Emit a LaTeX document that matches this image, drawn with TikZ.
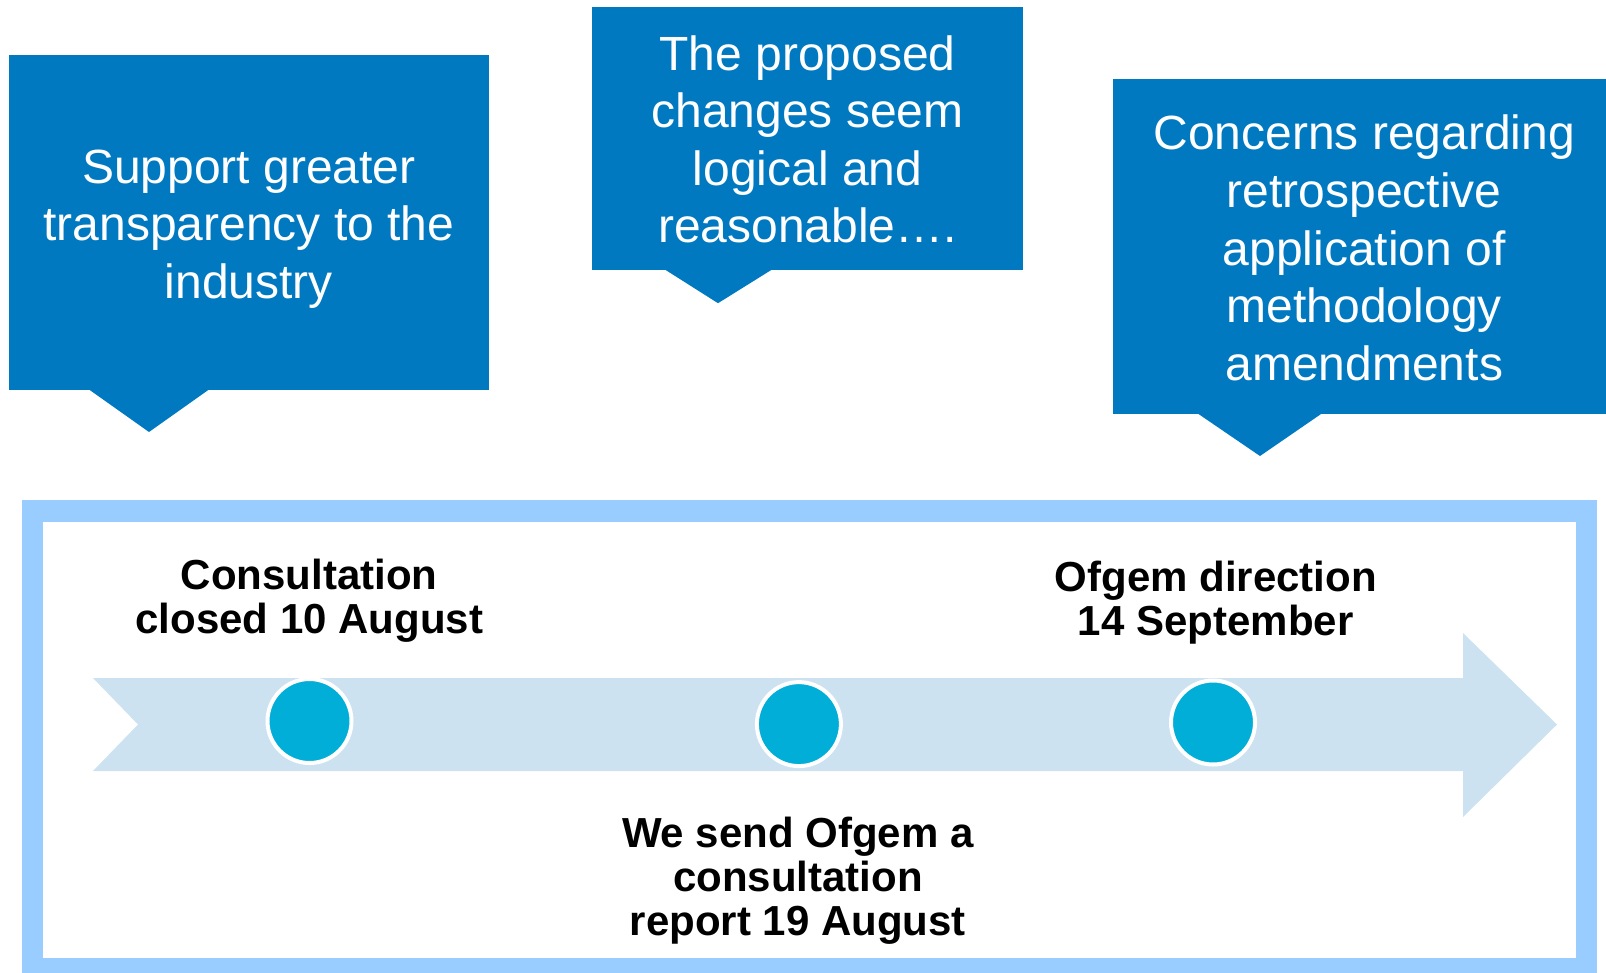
\documentclass[tikz,border=0pt]{standalone}
\usepackage{fontspec}
\setmainfont{Liberation Sans}
\definecolor{calloutblue}{RGB}{0,121,193}
\definecolor{framelight}{RGB}{153,204,255}
\definecolor{bandblue}{RGB}{204,226,240}
\definecolor{dotcyan}{RGB}{0,174,216}
\begin{document}
\begin{tikzpicture}[x=1pt,y=-1pt,
  callout/.style={fill=calloutblue, inner sep=0pt},
  callouttext/.style={text=white, align=center, inner sep=0pt,
    font=\fontsize{48}{57.6}\selectfont},
  milestone/.style={circle, fill=dotcyan, draw=white, line width=4pt,
    minimum size=84pt, inner sep=0pt},
  datelabel/.style={align=center, inner sep=0pt,
    font=\fontsize{42}{44}\selectfont\bfseries}]
\useasboundingbox (0,0) rectangle (1606,972);

% outer frame of the timeline
\node[draw=framelight, line width=21.5pt, minimum width=1554pt,
  minimum height=457.75pt, inner sep=0pt] (frame) at (809.5,739.9) {};

% timeline arrow
\fill[bandblue] (93,678) -- (1463,678) -- (1463,633) -- (1557,724.5)
  -- (1463,817) -- (1463,771) -- (93,771) -- (138,724.5) -- cycle;

% milestones
\node[milestone] (c1) at (309.5,721) {};
\node[milestone] (c2) at (798.9,724.1) {};
\node[milestone] (c3) at (1213,722.5) {};

% milestone labels
\node[datelabel] (l1) at (309.3,600.6) {Consultation\\closed 10 August};
\node[datelabel] (l2) at (1215.7,603) {Ofgem direction\\14 September};
\node[datelabel] (l3) at (797.9,881) {We send Ofgem a\\consultation\\report 19 August};

% callouts
\node[callout, minimum width=479.3pt, minimum height=334.9pt] (b1) at (248.9,222.7) {};
\fill[calloutblue] (89,389.5) -- (149,432) -- (209,389.5) -- cycle;
\node[callouttext] (t1) at (248.9,229) {Support greater\\transparency to the\\industry};

\node[callout, minimum width=431pt, minimum height=263.2pt] (b2) at (807.5,138.8) {};
\fill[calloutblue] (664.7,269.4) -- (718,303.2) -- (772.2,269.4) -- cycle;
\node[callouttext] (t2) at (807.5,139.3) {The proposed\\changes seem\\logical and\\reasonable\dots.};

\node[callout, minimum width=502pt, minimum height=335.1pt] (b3) at (1364.3,246.4) {};
\fill[calloutblue] (1197,413) -- (1260,456) -- (1322.5,413) -- cycle;
\node[callouttext] (t3) at (1364.3,248) {Concerns regarding\\retrospective\\application of\\methodology\\amendments};
\end{tikzpicture}
\end{document}
